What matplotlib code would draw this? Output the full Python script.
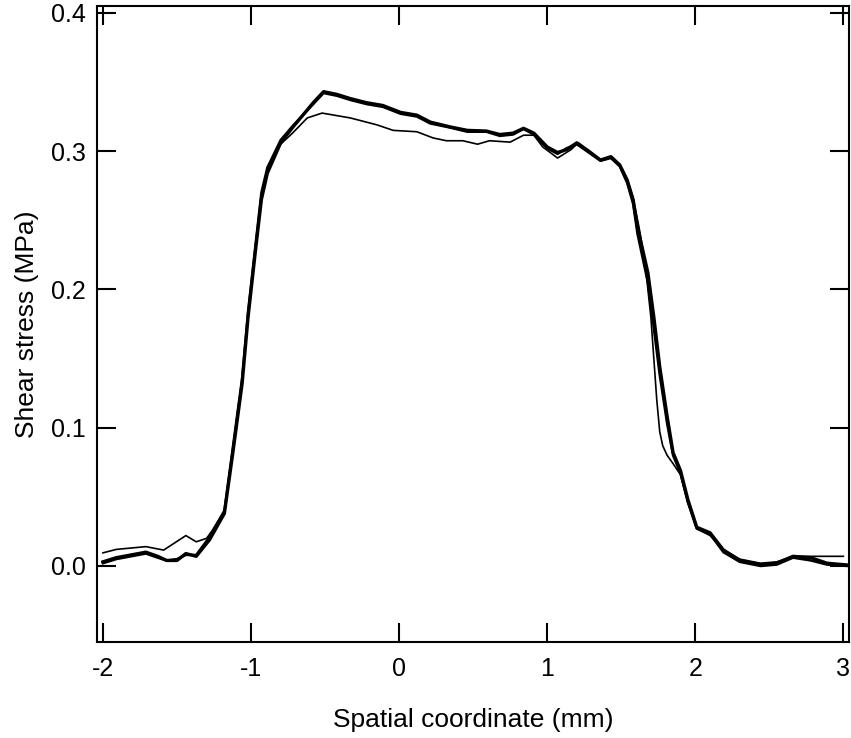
import matplotlib
matplotlib.use('Agg')
import matplotlib.pyplot as plt

plt.rcParams['font.family'] = ['Liberation Sans', 'DejaVu Sans']
plt.rcParams['axes.unicode_minus'] = False

# thick curve (run 1)
x_thick = [-2.00, -1.91, -1.71, -1.63, -1.57, -1.50, -1.44, -1.37, -1.28, -1.18, -1.12,
           -1.06, -1.02, -0.97, -0.93, -0.89, -0.80, -0.72, -0.58, -0.51, -0.42, -0.33,
           -0.22, -0.11, 0.01, 0.12, 0.21, 0.345, 0.46, 0.59, 0.68, 0.77, 0.84, 0.91,
           1.00, 1.07, 1.13, 1.20, 1.28, 1.36, 1.43, 1.49, 1.54, 1.58, 1.61, 1.68, 1.72,
           1.76, 1.81, 1.85, 1.90, 1.95, 2.01, 2.10, 2.19, 2.30, 2.44, 2.55, 2.66, 2.78,
           2.89, 3.03]
y_thick = [0.003, 0.006, 0.010, 0.007, 0.004, 0.004, 0.009, 0.007, 0.019, 0.038, 0.084,
           0.132, 0.180, 0.228, 0.265, 0.284, 0.306, 0.317, 0.335, 0.343, 0.341, 0.338,
           0.335, 0.333, 0.328, 0.326, 0.321, 0.3175, 0.315, 0.3145, 0.312, 0.313, 0.3165, 0.313,
           0.303, 0.299, 0.301, 0.306, 0.300, 0.2935, 0.296, 0.290, 0.279, 0.265, 0.245, 0.212, 0.180,
           0.144, 0.108, 0.082, 0.069, 0.048, 0.028, 0.024, 0.0115, 0.004, 0.001, 0.002, 0.007, 0.006,
           0.002, 0.0007]

# second thick curve (run 2)
x_mid = [-2.00, -1.91, -1.71, -1.63, -1.57, -1.50, -1.44, -1.37, -1.28, -1.18, -1.12,
         -1.06, -1.02, -0.97, -0.93, -0.89, -0.80, -0.72, -0.58, -0.51, -0.42, -0.33,
         -0.22, -0.11, 0.01, 0.12, 0.21, 0.345, 0.46, 0.59, 0.68, 0.77, 0.84, 0.91,
         1.00, 1.07, 1.13, 1.20, 1.28, 1.36, 1.43, 1.49, 1.54, 1.58, 1.61, 1.68, 1.72,
         1.76, 1.81, 1.85, 1.90, 1.95, 2.01, 2.10, 2.19, 2.30, 2.44, 2.55, 2.66, 2.78,
         2.89, 3.03]
y_mid = [0.002, 0.005, 0.009, 0.006, 0.004, 0.005, 0.008, 0.008, 0.021, 0.040, 0.088,
         0.136, 0.184, 0.232, 0.270, 0.288, 0.308, 0.318, 0.334, 0.342, 0.340, 0.337,
         0.334, 0.332, 0.327, 0.325, 0.320, 0.317, 0.314, 0.314, 0.311, 0.312, 0.316, 0.312,
         0.302, 0.298, 0.302, 0.305, 0.299, 0.293, 0.295, 0.289, 0.277, 0.262, 0.240, 0.205, 0.172,
         0.138, 0.103, 0.080, 0.067, 0.046, 0.027, 0.023, 0.010, 0.003, 0.000, 0.001, 0.006, 0.004,
         0.001, 0.000]

# thin curve (run 3)
x_thin = [-2.00, -1.91, -1.71, -1.59, -1.44, -1.37, -1.30, -1.26, -1.18, -1.12, -1.06,
          -1.02, -0.97, -0.93, -0.89, -0.80, -0.72, -0.62, -0.52, -0.33, -0.15, -0.04,
          0.12, 0.23, 0.32, 0.43, 0.53, 0.61, 0.75, 0.84, 0.91, 0.97, 1.07, 1.16, 1.21,
          1.28, 1.36, 1.43, 1.49, 1.54, 1.58, 1.62, 1.66, 1.70, 1.72, 1.74, 1.76, 1.78,
          1.81, 1.85, 1.90, 1.95, 2.01, 2.10, 2.19, 2.30, 2.44, 2.55, 2.66, 2.78, 2.89,
          3.00]
y_thin = [0.0095, 0.012, 0.014, 0.0115, 0.022, 0.0175, 0.020, 0.026, 0.040, 0.086, 0.134,
          0.182, 0.230, 0.268, 0.286, 0.305, 0.313, 0.324, 0.3275, 0.324, 0.319, 0.315,
          0.314, 0.3095, 0.3075, 0.3075, 0.305, 0.3075, 0.3065, 0.3115, 0.3115, 0.303, 0.295, 0.301, 0.306,
          0.300, 0.294, 0.296, 0.290, 0.280, 0.266, 0.245, 0.220, 0.180, 0.150, 0.120, 0.097, 0.087,
          0.080, 0.074, 0.066, 0.046, 0.027, 0.022, 0.012, 0.005, 0.002, 0.003, 0.007, 0.007, 0.007,
          0.007]

fig = plt.figure(figsize=(8.51, 7.38), dpi=100)
ax = fig.add_axes([0.114, 0.130, 0.884, 0.862])

ax.plot(x_thin, y_thin, color='black', lw=1.2)
ax.plot(x_mid, y_mid, color='black', lw=1.8)
ax.plot(x_thick, y_thick, color='black', lw=2.4)

ax.set_xlim(-2.04, 3.04)
ax.set_ylim(-0.055, 0.405)
ax.set_xticks([-2, -1, 0, 1, 2, 3])
ax.set_yticks([0.0, 0.1, 0.2, 0.3, 0.4])
ax.set_yticklabels(['0.0', '0.1', '0.2', '0.3', '0.4'])

for s in ax.spines.values():
    s.set_linewidth(1.5)
ax.tick_params(direction='in', length=13.5, width=1.5, top=True, right=True,
               labelsize=18)
ax.tick_params(axis='x', pad=11)
ax.tick_params(axis='y', pad=8)

ax.set_xlabel('Spatial coordinate (mm)', fontsize=19, labelpad=19)
ax.set_ylabel('Shear stress (MPa)', fontsize=19, labelpad=9)

fig.savefig('out.png', dpi=100)
